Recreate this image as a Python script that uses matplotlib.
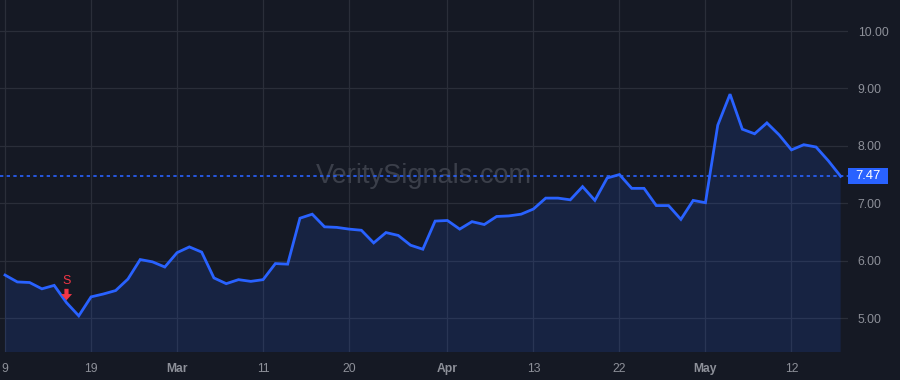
import matplotlib
matplotlib.use("Agg")
import matplotlib.pyplot as plt
import matplotlib.patches as mpatches
import matplotlib.transforms as mtransforms
import numpy as np

plt.rcParams['font.family'] = ['Liberation Sans', 'DejaVu Sans']

# closing prices, one per session
prices = [5.75, 5.63, 5.62, 5.51, 5.57, 5.27, 5.04, 5.37, 5.42, 5.48,
          5.68, 6.02, 5.98, 5.89, 6.14, 6.24, 6.15, 5.70, 5.60, 5.67,
          5.64, 5.67, 5.95, 5.94, 6.74, 6.81, 6.59, 6.58, 6.55, 6.53,
          6.31, 6.49, 6.44, 6.27, 6.20, 6.69, 6.70, 6.55, 6.68, 6.63,
          6.77, 6.78, 6.81, 6.90, 7.09, 7.09, 7.06, 7.29, 7.05, 7.44,
          7.50, 7.26, 7.26, 6.96, 6.96, 6.72, 7.05, 7.01, 8.36, 8.90,
          8.29, 8.21, 8.40, 8.19, 7.93, 8.02, 7.98, 7.74, 7.47]
tick_pos = [0, 7, 14, 21, 28, 36, 43, 50, 57, 64]
tick_labels = ["9", "19", "Mar", "11", "20", "Apr", "13", "22", "May", "12"]
month_labels = ["Mar", "Apr", "May"]
y_ticks = [5, 6, 7, 8, 9, 10]
sell_idx = 5
last_price = prices[-1]

bg = "#151924"
grid = "#2a2e39"
blue = "#2962ff"
red = "#f23645"
txt = "#8d9099"

fig = plt.figure(figsize=(9, 3.8), dpi=100, facecolor=bg)
ax = fig.add_axes([0, 28 / 380, 848 / 900, 352 / 380])
ax.set_facecolor(bg)

x = np.arange(len(prices))
ax.fill_between(x, prices, 0, color=blue, alpha=0.14, lw=0, zorder=2)
ax.plot(x, prices, color=blue, lw=2, zorder=3, solid_joinstyle="miter")

ax.axhline(last_price, color=blue, lw=1.2, ls=(0, (2, 2)), zorder=4)

ax.set_xlim(-0.41, 68.6)
ax.set_ylim(4.41, 10.54)

ax.set_xticks(tick_pos)
ax.set_xticklabels(tick_labels)
for lab in ax.get_xticklabels():
    if lab.get_text() in month_labels:
        lab.set_fontweight("bold")
ax.yaxis.tick_right()
ax.set_yticks(y_ticks)
ax.set_yticklabels([f"{v:.2f}" for v in y_ticks])
ax.tick_params(axis="both", length=0, colors=txt, labelsize=8.7)
ax.tick_params(axis="x", pad=8)
ax.tick_params(axis="y", pad=7)
ax.grid(True, color=grid, lw=0.9)
ax.set_axisbelow(True)
for s in ax.spines.values():
    s.set_visible(False)

# price tag on the right
trans = mtransforms.blended_transform_factory(fig.transFigure, ax.transData)
h = 16 / 57.4
tag = mpatches.Rectangle((848 / 900, last_price - h / 2), 40 / 900, h, transform=trans,
                         facecolor=blue, edgecolor="none", clip_on=False, zorder=6)
ax.add_patch(tag)
ax.text(868 / 900, last_price, f"{last_price:.2f}", transform=trans, ha="center",
        va="center", color="white", fontsize=9.4, zorder=7, clip_on=False)

# sell marker
ax.annotate("", xy=(sell_idx, 5.31), xytext=(sell_idx, 5.51),
            arrowprops=dict(arrowstyle="simple,head_width=0.8,head_length=0.45,tail_width=0.3",
                            color=red, lw=0, shrinkA=0, shrinkB=0), zorder=5)
ax.text(sell_idx, 5.645, "S", color=red, fontsize=9, ha="center", va="center", zorder=5)

# watermark
ax.text(0.5, 0.5, "VeritySignals.com", transform=ax.transAxes, ha="center", va="center",
        fontsize=19.5, color="#3b3f4a", zorder=1)

fig.savefig("out.png", dpi=100, facecolor=bg)
